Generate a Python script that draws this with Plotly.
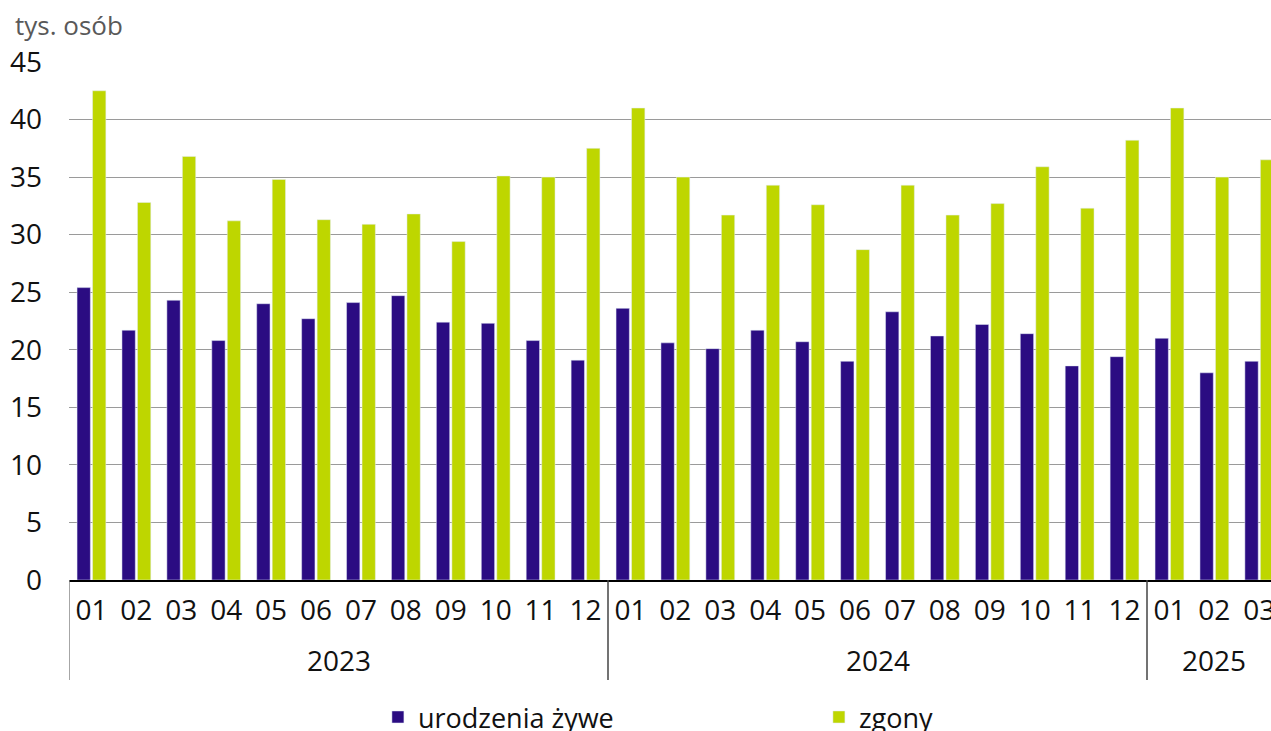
import plotly.graph_objects as go

years = ["2023", "2024", "2025"]
months_per_year = [12, 12, 3]
month_labels = ["01", "02", "03", "04", "05", "06", "07", "08", "09", "10", "11", "12"]

births = [25.4, 21.7, 24.3, 20.8, 24.0, 22.7, 24.1, 24.7, 22.4, 22.3, 20.8, 19.1,
          23.6, 20.6, 20.1, 21.7, 20.7, 19.0, 23.3, 21.2, 22.2, 21.4, 18.6, 19.4,
          21.0, 18.0, 19.0]
deaths = [42.5, 32.8, 36.8, 31.2, 34.8, 31.3, 30.9, 31.8, 29.4, 35.1, 35.0, 37.5,
          41.0, 35.0, 31.7, 34.3, 32.6, 28.7, 34.3, 31.7, 32.7, 35.9, 32.3, 38.2,
          41.0, 35.0, 36.5]

y_ticks = [0, 5, 10, 15, 20, 25, 30, 35, 40, 45]

# category keys
cats, ticktext = [], []
for yr, n in zip(years, months_per_year):
    for m in month_labels[:n]:
        cats.append(f"{yr}-{m}")
        ticktext.append(m)

FONT = "Open Sans"
PURPLE = "#2B0C82"
GREEN = "#BED600"
TXT = "#111111"
TICK_SIZE = 28

fig = go.Figure()
fig.add_trace(go.Bar(x=cats, y=births, name="urodzenia żywe", marker_color=PURPLE))
fig.add_trace(go.Bar(x=cats, y=deaths, name="zgony", marker_color=GREEN))

# year labels and dividers
annotations = []
shapes = []
start = 0
for i, (yr, n) in enumerate(zip(years, months_per_year)):
    center = start + (n - 1) / 2
    annotations.append(dict(x=center, xref="x", y=0, yref="paper", yanchor="middle",
                            yshift=-80, text=yr, showarrow=False,
                            font=dict(family=FONT, size=TICK_SIZE, color=TXT)))
    shapes.append(dict(type="line", xref="x", yref="paper", x0=start - 0.5, x1=start - 0.5,
                       y0=0, y1=-100 / 518,
                       line=dict(color="#888888" if i == 0 else "#444444", width=1.5)))
    start += n

annotations.append(dict(x=0, xref="paper", xanchor="left", xshift=-56, y=1, yref="paper",
                        yanchor="middle", yshift=37, text="tys. osób", showarrow=False,
                        font=dict(family=FONT, size=26, color="#595959")))

plot_w = 1271 - 69
slot = 539 / 12.0
x_max = -0.5 + plot_w / slot

fig.update_layout(
    width=1271, height=731,
    margin=dict(l=69, r=0, t=62, b=151, autoexpand=False),
    paper_bgcolor="white", plot_bgcolor="white",
    barmode="group", bargap=0.31, bargroupgap=0.14,
    font=dict(family=FONT, size=26, color=TXT),
    showlegend=True,
    legend=dict(orientation="h", x=0.257, xanchor="left", y=-0.218, yanchor="top",
                entrywidth=396, font=dict(family=FONT, size=27, color=TXT),
                traceorder="normal"),
    annotations=annotations, shapes=shapes,
)
fig.update_xaxes(type="category", range=[-0.5, x_max], tickmode="array",
                 tickvals=cats, ticktext=ticktext, ticks="", showgrid=False,
                 showline=True, linecolor="#000000", linewidth=1.5,
                 ticklabelstandoff=5, automargin=False,
                 tickfont=dict(family=FONT, size=TICK_SIZE, color=TXT))
fig.update_yaxes(range=[0, 45], tickmode="array", tickvals=y_ticks, ticks="",
                 showgrid=True, gridcolor="#9a9a9a", gridwidth=1.3, zeroline=False,
                 showline=False, ticklabelstandoff=26, automargin=False,
                 tickfont=dict(family=FONT, size=TICK_SIZE, color=TXT))

fig.write_html("out.html", config={"displayModeBar": False},
               post_script="document.body.style.margin='0';document.body.style.overflow='hidden';")
